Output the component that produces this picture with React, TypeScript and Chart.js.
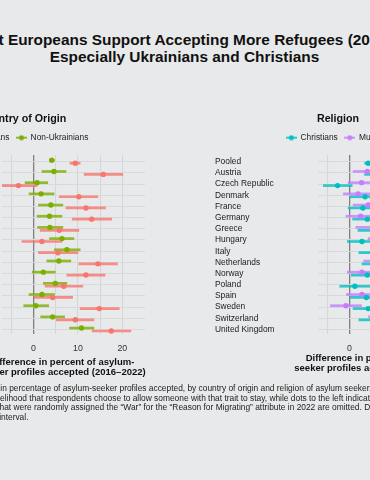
import React, { useEffect, useRef } from 'react';
import { Chart, registerables } from 'chart.js';

Chart.register(...registerables);

const FONT = '"Liberation Sans", Arial, Helvetica, sans-serif';
const BG = '#e8e9ea';

// ---------- data ----------
const countries = [
  'Pooled', 'Austria', 'Czech Republic', 'Denmark', 'France', 'Germany', 'Greece', 'Hungary',
  'Italy', 'Netherlands', 'Norway', 'Poland', 'Spain', 'Sweden', 'Switzerland', 'United Kingdom',
];

// Country of origin panel
const ukrEst = [9.4, 15.7, -3.4, 10.2, 11.8, 13.1, 5.8, 1.9, 5.5, 14.5, 11.8, 6.8, 4.3, 14.8, 9.4, 17.5];
const ukrLow = [8.2, 11.4, -7.6, 5.8, 7.3, 8.7, 1.5, -2.6, 1.1, 10.2, 7.5, 2.6, 0.0, 10.5, 5.1, 13.2];
const ukrHigh = [10.5, 20.1, 0.8, 14.5, 16.2, 17.6, 10.2, 6.4, 10.0, 18.9, 16.1, 11.1, 8.8, 19.3, 13.6, 21.9];

const nonUkrEst = [4.1, 4.6, 0.8, 1.7, 3.9, 3.6, 3.7, 6.4, 7.5, 5.7, 2.2, 4.9, 1.9, 0.5, 4.3, 10.8];
const nonUkrLow = [3.6, 1.9, -1.9, -1.0, 1.1, 0.8, 0.9, 3.6, 4.7, 3.0, -0.3, 2.2, -1.0, -2.2, 1.6, 8.1];
const nonUkrHigh = [4.7, 7.3, 3.2, 4.6, 6.6, 6.4, 6.6, 9.1, 10.5, 8.4, 4.9, 7.5, 4.7, 3.4, 7.0, 13.6];

// Religion panel
const chrEst = [4.2, 7.6, -2.7, 3.5, 3.0, 4.0, 5.8, 2.8, 5.8, 6.5, 4.0, 1.2, 3.8, 4.2, 5.8, 8.5];
const chrLow = [3.4, 3.4, -5.9, 0.1, -0.3, 0.7, 1.9, -0.5, 2.1, 2.8, 0.4, -2.2, 0.2, 0.8, 2.1, 4.8];
const chrHigh = [5.0, 11.8, 0.6, 6.9, 6.3, 7.3, 9.7, 6.1, 9.5, 10.2, 7.6, 4.6, 7.4, 7.6, 9.5, 12.2];

const musEst = [5.6, 4.0, 2.7, 1.9, 4.2, 2.5, 5.2, 8.0, 8.8, 7.0, 2.8, 8.5, 2.8, -0.8, 8.0, 9.0];
const musLow = [5.0, 0.8, -0.3, -1.4, 0.8, -0.8, 1.4, 4.2, 5.0, 3.2, -0.5, 4.9, -0.7, -4.3, 4.3, 5.2];
const musHigh = [6.2, 7.2, 5.7, 5.2, 7.6, 5.8, 9.0, 11.8, 12.6, 10.8, 6.1, 12.1, 6.3, 2.7, 11.7, 12.8];

const xTickLabels = [0, 10, 20];
const xGridValues = [-5, 0, 5, 10, 15, 20];

// ---------- helpers ----------
function rgba(hex: string, a: number) {
  const n = parseInt(hex.slice(1), 16);
  return `rgba(${(n >> 16) & 255},${(n >> 8) & 255},${n & 255},${a})`;
}

let measureCtx: CanvasRenderingContext2D | null = null;
function textWidth(text: string, font: string) {
  if (!measureCtx) measureCtx = document.createElement('canvas').getContext('2d');
  if (!measureCtx) return 0;
  measureCtx.font = font;
  return measureCtx.measureText(text).width;
}

function symbolImage(color: string) {
  const c = document.createElement('canvas');
  c.width = 11;
  c.height = 6;
  const g = c.getContext('2d')!;
  g.strokeStyle = rgba(color, 0.8);
  g.lineWidth = 2;
  g.beginPath();
  g.moveTo(0, 3);
  g.lineTo(11, 3);
  g.stroke();
  g.fillStyle = color;
  g.beginPath();
  g.arc(5.5, 3, 2.5, 0, Math.PI * 2);
  g.fill();
  return c;
}

type Series = { label: string; color: string; est: number[]; low: number[]; high: number[]; shift: number };

const CANVAS_W = 246;
const CANVAS_H = 260;
const CANVAS_TOP = 100;

function Panel({ left, title, series }: { left: number; title: string; series: Series[] }) {
  const ref = useRef<HTMLCanvasElement>(null);
  useEffect(() => {
    if (!ref.current) return;
    const datasets: any[] = [];
    series.forEach((s) => {
      datasets.push({
        type: 'bar',
        indexAxis: 'y',
        label: s.label,
        xAxisID: 'x',
        yAxisID: 'y',
        data: countries.map((_, i) => ({ y: i + s.shift, x: [s.low[i], s.high[i]] })),
        backgroundColor: rgba(s.color, 0.8),
        borderWidth: 0,
        barThickness: 2,
        grouped: false,
        order: 2,
      });
      datasets.push({
        type: 'scatter',
        label: s.label,
        xAxisID: 'x',
        yAxisID: 'y',
        data: countries.map((_, i) => ({ x: s.est[i], y: i + s.shift })),
        backgroundColor: s.color,
        borderWidth: 0,
        pointRadius: 2.7,
        pointHoverRadius: 2.7,
        order: 1,
      });
    });
    const chart = new Chart(ref.current, {
      type: 'scatter',
      data: { datasets },
      options: {
        animation: false,
        responsive: false,
        events: [],
        layout: { padding: 0, autoPadding: false },
        plugins: {
          title: {
            display: true,
            text: title,
            color: '#111',
            font: { family: FONT, size: 10.7, weight: 'bold' },
            padding: { top: 12.6, bottom: 1 },
          },
          legend: {
            display: true,
            position: 'top',
            onClick: () => {},
            labels: {
              usePointStyle: true,
              pointStyleWidth: 10,
              padding: 7,
              color: '#222',
              font: { family: FONT, size: 8.4 },
              generateLabels: () =>
                series.map((s, k) => ({
                  text: s.label,
                  pointStyle: symbolImage(s.color) as any,
                  fillStyle: s.color,
                  strokeStyle: s.color,
                  lineWidth: 0,
                  hidden: false,
                  datasetIndex: k * 2,
                  fontColor: '#222',
                })),
            },
          },
          tooltip: { enabled: false },
        },
        scales: {
          x: {
            type: 'linear',
            position: 'bottom',
            min: -7.1,
            max: 25.1,
            afterBuildTicks: (s: any) => {
              s.ticks = xGridValues.map((v) => ({ value: v }));
            },
            afterFit: (s: any) => {
              s.height = 26;
            },
            border: { display: false },
            grid: {
              drawTicks: false,
              color: (c: any) => (c.tick && c.tick.value === 0 ? '#808080' : '#d5d6d7'),
              lineWidth: (c: any) => (c.tick && c.tick.value === 0 ? 1.3 : 1.1),
            },
            ticks: {
              autoSkip: false,
              maxRotation: 0,
              minRotation: 0,
              padding: 9,
              color: '#333',
              font: { family: FONT, size: 8.8 },
              callback: (v: any) => (xTickLabels.includes(Number(v)) ? String(v) : ''),
            },
          },
          xTop: {
            type: 'linear',
            position: 'top',
            min: 0,
            max: 1,
            display: true,
            grid: { display: false, drawTicks: false },
            border: { display: false },
            ticks: { display: false },
            afterFit: (s: any) => {
              s.height = 3.2;
            },
          },
          y: {
            type: 'linear',
            reverse: true,
            min: -0.6,
            max: 15.4,
            offset: false,
            afterBuildTicks: (s: any) => {
              s.ticks = countries.map((_, i) => ({ value: i }));
            },
            afterFit: (s: any) => {
              s.width = 103;
            },
            border: { display: false },
            grid: { drawTicks: false, color: '#d8d9da', lineWidth: 1.1, offset: false },
            ticks: {
              autoSkip: false,
              crossAlign: 'far',
              padding: 0,
              color: '#1a1a1a',
              font: { family: FONT, size: 8.4 },
              callback: (v: any) => countries[Math.round(Number(v))] ?? '',
            },
          },
        },
      } as any,
    });
    return () => chart.destroy();
  }, []);
  return (
    <canvas
      ref={ref}
      width={CANVAS_W}
      height={CANVAS_H}
      style={{ position: 'absolute', left, top: CANVAS_TOP, width: CANVAS_W, height: CANVAS_H }}
    />
  );
}

const titleFont = `bold 15.4px ${FONT}`;
const captionFont = `8.4px ${FONT}`;

const captionLines = [
  { prefix: 'Note: Figure shows the difference ', text: 'in percentage of asylum-seeker profiles accepted, by country of origin and religion of asylum seeker. Dots to the right of zero', start: 0.3, y: 384 },
  { prefix: 'indicate a higher lik', text: 'elihood that respondents choose to allow someone with that trait to stay, while dots to the left indicate a lower likelihood.', start: 0, y: 393.7 },
  { prefix: 'Respondents t', text: 'hat were randomly assigned the \u201cWar\u201d for the \u201cReason for Migrating\u201d attribute in 2022 are omitted. Dashes represent the 95% confidence', start: -0.5, y: 403.4 },
  { prefix: 'i', text: 'nterval.', start: 1, y: 413.1 },
];

export default function App() {
  useEffect(() => {
    document.body.style.margin = '0';
    document.body.style.background = BG;
  }, []);

  const leftSeries: Series[] = [
    { label: 'Ukrainians', color: '#F8766D', est: ukrEst, low: ukrLow, high: ukrHigh, shift: 0.13 },
    { label: 'Non-Ukrainians', color: '#7CAE00', est: nonUkrEst, low: nonUkrLow, high: nonUkrHigh, shift: -0.13 },
  ];
  const rightSeries: Series[] = [
    { label: 'Christians', color: '#00BFC4', est: chrEst, low: chrLow, high: chrHigh, shift: 0.13 },
    { label: 'Muslims', color: '#C77CFF', est: musEst, low: musLow, high: musHigh, shift: -0.13 },
  ];

  const axisTitleStyle = (center: number, top: number): React.CSSProperties => ({
    position: 'absolute',
    left: center - 150,
    width: 300,
    top,
    textAlign: 'center',
    font: `bold 9.5px ${FONT}`,
    lineHeight: '10px',
    color: '#111',
    whiteSpace: 'nowrap',
  });

  return (
    <div
      style={{
        position: 'fixed',
        left: 0,
        top: 0,
        width: 370,
        height: 480,
        overflow: 'hidden',
        background: BG,
        fontFamily: FONT,
      }}
    >
      <div
        style={{
          position: 'absolute',
          left: -1.5 - textWidth('Mos', titleFont),
          top: 31,
          font: titleFont,
          lineHeight: '18.5px',
          color: '#111',
          whiteSpace: 'nowrap',
        }}
      >
        Most Europeans Support Accepting More Refugees (2016–2022),
      </div>
      <div
        style={{
          position: 'absolute',
          left: 0,
          width: 369,
          top: 48.2,
          textAlign: 'center',
          font: titleFont,
          lineHeight: '18.5px',
          color: '#111',
          whiteSpace: 'nowrap',
        }}
      >
        Especially Ukrainians and Christians
      </div>

      <Panel left={-101} title="Country of Origin" series={leftSeries} />
      <Panel left={215} title="Religion" series={rightSeries} />

      <div style={axisTitleStyle(62, 357)}>
        Difference in percent of asylum-
        <br />
        seeker profiles accepted (2016–2022)
      </div>
      <div style={axisTitleStyle(378, 353)}>
        Difference in percent of asylum-
        <br />
        seeker profiles accepted (2016–2022)
      </div>

      {captionLines.map((l, i) => (
        <div
          key={i}
          style={{
            position: 'absolute',
            left: l.start - textWidth(l.prefix, captionFont),
            top: l.y,
            font: captionFont,
            lineHeight: '9.7px',
            color: '#222',
            whiteSpace: 'nowrap',
          }}
        >
          {l.prefix + l.text}
        </div>
      ))}
    </div>
  );
}
